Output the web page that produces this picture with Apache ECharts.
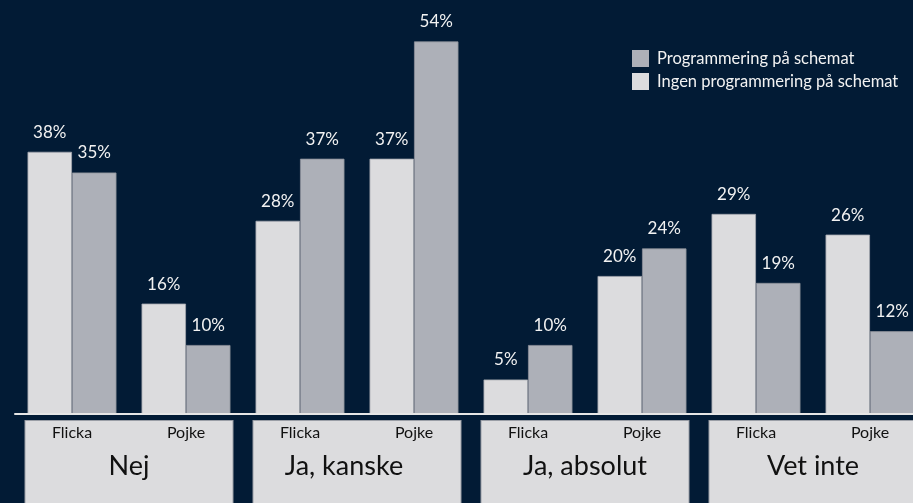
<!DOCTYPE html>
<html>
<head>
<meta charset="utf-8">
<script src="https://cdn.jsdelivr.net/npm/echarts@6/dist/echarts.min.js"></script>
<style>
  html, body { margin: 0; padding: 0; background: #021b35; }
  #chart { width: 913px; height: 503px; }
</style>
</head>
<body>
<div id="chart"></div>
<script>
// data
var groups = ['Nej', 'Ja, kanske', 'Ja, absolut', 'Vet inte'];
var subCats = ['Flicka', 'Pojke', 'Flicka', 'Pojke', 'Flicka', 'Pojke', 'Flicka', 'Pojke'];
var ingenProg = [38, 16, 28, 37, 5, 20, 29, 26];     // Ingen programmering på schemat
var medProg = [35, 10, 37, 54, 10, 24, 19, 12];      // Programmering på schemat

var nameMed = 'Programmering på schemat';
var nameIngen = 'Ingen programmering på schemat';

var font = 'Lato, "Open Sans", sans-serif';

var chart = echarts.init(document.getElementById('chart'));

var barLabel = {
    show: true,
    position: 'top',
    distance: 11,
    color: '#f2f2f2',
    fontSize: 17,
    fontFamily: font,
    formatter: '{c}%'
};

option = {
    backgroundColor: '#021b35',
    animation: false,
    grid: {
        left: 15,
        width: 912,
        top: 0,
        bottom: 89,
        containLabel: false,
        outerBoundsMode: 'none'
    },
    legend: {
        data: [nameMed, nameIngen],
        orient: 'vertical',
        left: 627,
        top: 45,
        itemWidth: 17,
        itemHeight: 17,
        itemGap: 6,
        icon: 'rect',
        textStyle: { color: '#f2f2f2', fontSize: 16.5, fontFamily: font, padding: [0, 0, 0, 3] },
        itemStyle: { borderWidth: 0 }
    },
    xAxis: [{
            type: 'category',
            data: subCats,
            z: 3,
            axisLine: { show: true, lineStyle: { color: '#e6e6e6', width: 2 } },
            axisTick: { show: false },
            axisLabel: {
                interval: 0,
                margin: 11,
                color: '#111',
                fontSize: 16,
                fontFamily: font
            }
        },
        {
            type: 'category',
            data: groups,
            position: 'bottom',
            z: 1,
            axisLine: { show: false },
            axisTick: { show: false },
            splitLine: { show: false },
            axisLabel: {
                interval: 0,
                margin: 7,
                color: '#111',
                fontSize: 27,
                fontFamily: font,
                lineHeight: 28,
                width: 207,
                overflow: 'none',
                padding: [31, 0, 40, 0],
                backgroundColor: '#dcdcde',
                borderColor: '#9a9ea6',
                borderWidth: 1,
                // "Ja, kanske" sits a little left of centre in its box
                formatter: function (v) {
                    return v === 'Ja, kanske' ? '{l|' + v + '}' : v;
                },
                rich: {
                    l: { fontSize: 27, fontFamily: font, color: '#111', lineHeight: 28, padding: [0, 26, 0, 0] }
                }
            }
        }],
    yAxis: {
        type: 'value',
        min: 0,
        max: 60,
        show: false,
        splitLine: { show: false }
    },
    series: [
        {
            name: nameIngen,
            type: 'bar',
            xAxisIndex: 0,
            data: ingenProg,
            barGap: '0%',
            barCategoryGap: '22%',
            itemStyle: { color: '#dcdcde', borderColor: '#a4a7ae', borderWidth: 0.8 },
            label: barLabel
        },
        {
            name: nameMed,
            type: 'bar',
            xAxisIndex: 0,
            data: medProg,
            barGap: '0%',
            barCategoryGap: '22%',
            itemStyle: { color: '#adb0b8', borderColor: '#8d9099', borderWidth: 0.8 },
            label: barLabel
        }
    ]
};

chart.setOption(option);
</script>
</body>
</html>
